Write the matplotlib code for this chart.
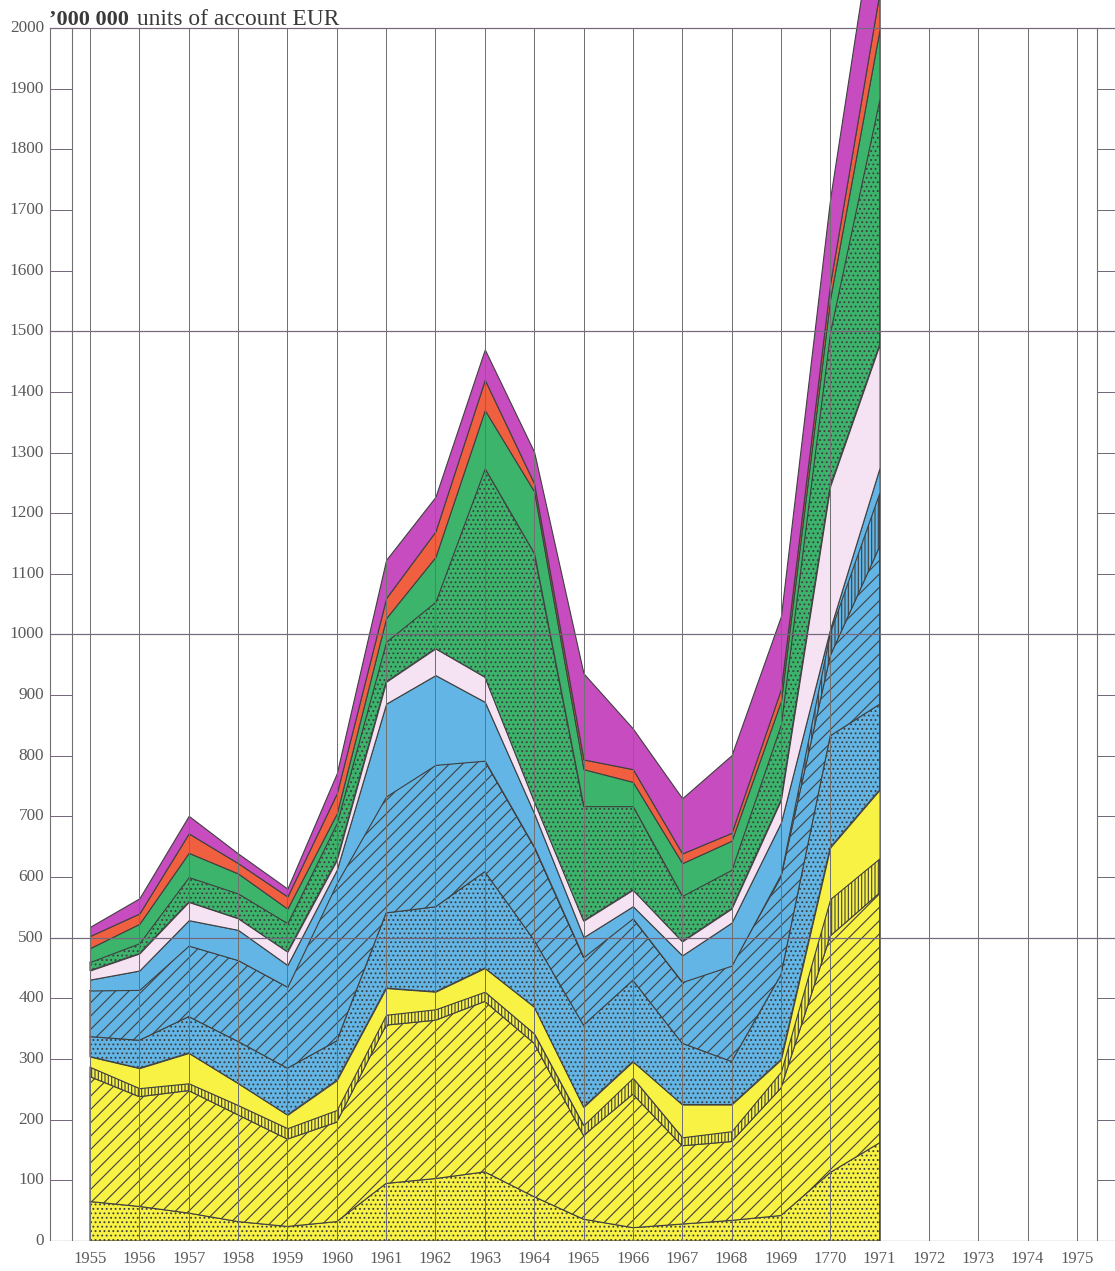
import numpy as np
import matplotlib
matplotlib.use("Agg")
import matplotlib.pyplot as plt

# ---------------------------------------------------------
# data ('000 000 units of account), one array per stacked band
# ---------------------------------------------------------
years = np.arange(1955, 1972)

yellow_dots = [65, 57, 46, 32, 24, 32, 95, 103, 114, 73, 36, 22, 28, 34, 42, 113, 162]
yellow_diag = [206, 181, 202, 176, 144, 164, 261, 261, 281, 253, 138, 220, 129, 130, 210, 390, 412]
yellow_bars = [16, 14, 12, 16, 18, 20, 17, 18, 16, 16, 17, 27, 14, 17, 27, 61, 57]
yellow_plain = [17, 33, 50, 36, 22, 49, 44, 29, 39, 44, 30, 27, 54, 44, 20, 85, 113]
blue_dots = [33, 46, 60, 69, 77, 65, 124, 140, 159, 110, 135, 134, 101, 71, 140, 184, 141]
blue_diag = [76, 83, 117, 134, 134, 260, 192, 234, 183, 154, 112, 102, 101, 158, 161, 132, 260]
blue_bars = [0, 0, 0, 0, 0, 0, 0, 0, 0, 0, 0, 0, 0, 0, 5, 40, 90]
blue_plain = [18, 32, 42, 50, 36, 22, 153, 148, 97, 55, 33, 20, 44, 71, 85, 5, 40]
pink = [15, 28, 30, 19, 22, 16, 36, 44, 41, 20, 27, 27, 23, 23, 37, 235, 203]
green_dots = [14, 17, 41, 41, 47, 61, 66, 77, 344, 409, 189, 138, 75, 64, 125, 255, 406]
green_plain = [23, 32, 40, 33, 24, 16, 39, 74, 96, 102, 61, 40, 54, 48, 38, 55, 114]
red = [20, 17, 32, 17, 20, 33, 33, 42, 50, 13, 16, 21, 16, 13, 20, 25, 62]
magenta = [15, 25, 29, 16, 13, 33, 63, 57, 50, 52, 142, 67, 91, 128, 120, 140, 190]

axis_years = list(range(1955, 1976))
axis_year_labels = ["1955", "1956", "1957", "1958", "1959", "1960", "1961",
                    "1962", "1963", "1964", "1965", "1966", "1967", "1968",
                    "1969", "1770", "1971", "1972", "1973", "1974", "1975"]
y_tick_values = list(range(0, 2001, 100))
y_major = [0, 500, 1000, 1500, 2000]

# ---------------------------------------------------------
# style
# ---------------------------------------------------------
YELLOW = "#f8f245"
BLUE = "#62b5e5"
PINK = "#f5e2f2"
GREEN = "#3cb46c"
RED = "#f06040"
MAGENTA = "#c64cbf"
EDGE = "#404040"
GRID = "#707070"
HGRID = "#76687c"
TEXT = "#5a5a5a"
SERIF = "Liberation Serif"

DPI = 80
plt.rcParams["hatch.linewidth"] = 1.0

# pixel layout of the page (figure is 1115 x 1271 px)
X0_PX, STEP_PX = 90, 49.35     # 1955 gridline and distance between years
Y0_PX, UNIT_PX = 1241, 0.6065  # zero line and pixels per unit


def px_x(px):
    return 1955 + (px - X0_PX) / STEP_PX


def px_y(py):
    return (Y0_PX - py) / UNIT_PX


fig = plt.figure(figsize=(1115 / DPI, 1271 / DPI), dpi=DPI)
ax = fig.add_axes([0, (1271 - Y0_PX) / 1271, 1, Y0_PX / 1271])
ax.set_xlim(px_x(0), px_x(1115))
ax.set_ylim(0, px_y(0))
ax.axis("off")

layers = [
    (yellow_dots, YELLOW, "..."),
    (yellow_diag, YELLOW, "//"),
    (yellow_bars, YELLOW, "||||"),
    (yellow_plain, YELLOW, None),
    (blue_dots, BLUE, "..."),
    (blue_diag, BLUE, "//"),
    (blue_bars, BLUE, "||||"),
    (blue_plain, BLUE, None),
    (pink, PINK, None),
    (green_dots, GREEN, "..."),
    (green_plain, GREEN, None),
    (red, RED, None),
    (magenta, MAGENTA, None),
]

base = np.zeros(len(years))
for values, color, hatch in layers:
    top = base + np.asarray(values, dtype=float)
    ax.fill_between(years, base, top, facecolor=color, edgecolor=EDGE,
                    hatch=hatch, linewidth=1.0, zorder=2)
    base = top

# ---------------------------------------------------------
# frame, grid and ruler ticks
# ---------------------------------------------------------
for yr in axis_years:
    ax.plot([yr, yr], [0, 2000], color=GRID, lw=0.9, zorder=3)
for xp in (50, 72, 1097):
    ax.plot([px_x(xp)] * 2, [0, 2000], color=GRID, lw=1.0, zorder=3)
for v in y_major:
    ax.plot([px_x(50), px_x(1115)], [v, v], color=HGRID, lw=1.1, zorder=3)
for v in y_tick_values:
    ax.plot([px_x(50), px_x(72)], [v, v], color=HGRID, lw=0.9, zorder=3)
    ax.plot([px_x(1097), px_x(1115)], [v, v], color=HGRID, lw=0.9, zorder=3)

# ---------------------------------------------------------
# labels
# ---------------------------------------------------------
for v in y_tick_values:
    ax.text(px_x(44), v, str(v), ha="right", va="center", fontsize=15.5,
            family=SERIF, color=TEXT, clip_on=False)
for yr, lab in zip(axis_years, axis_year_labels):
    ax.text(yr, px_y(1259), lab, ha="center", va="center", fontsize=15,
            family=SERIF, color=TEXT, clip_on=False)

ax.text(px_x(49), px_y(25), "\u2019000 000", ha="left", va="baseline",
        fontsize=20, fontweight="bold", family=SERIF, color="#3a3a3a")
ax.text(px_x(137), px_y(25), "units of account EUR", ha="left",
        va="baseline", fontsize=21, family=SERIF, color="#3a3a3a")

fig.savefig("out.png", dpi=DPI)
plt.close(fig)
